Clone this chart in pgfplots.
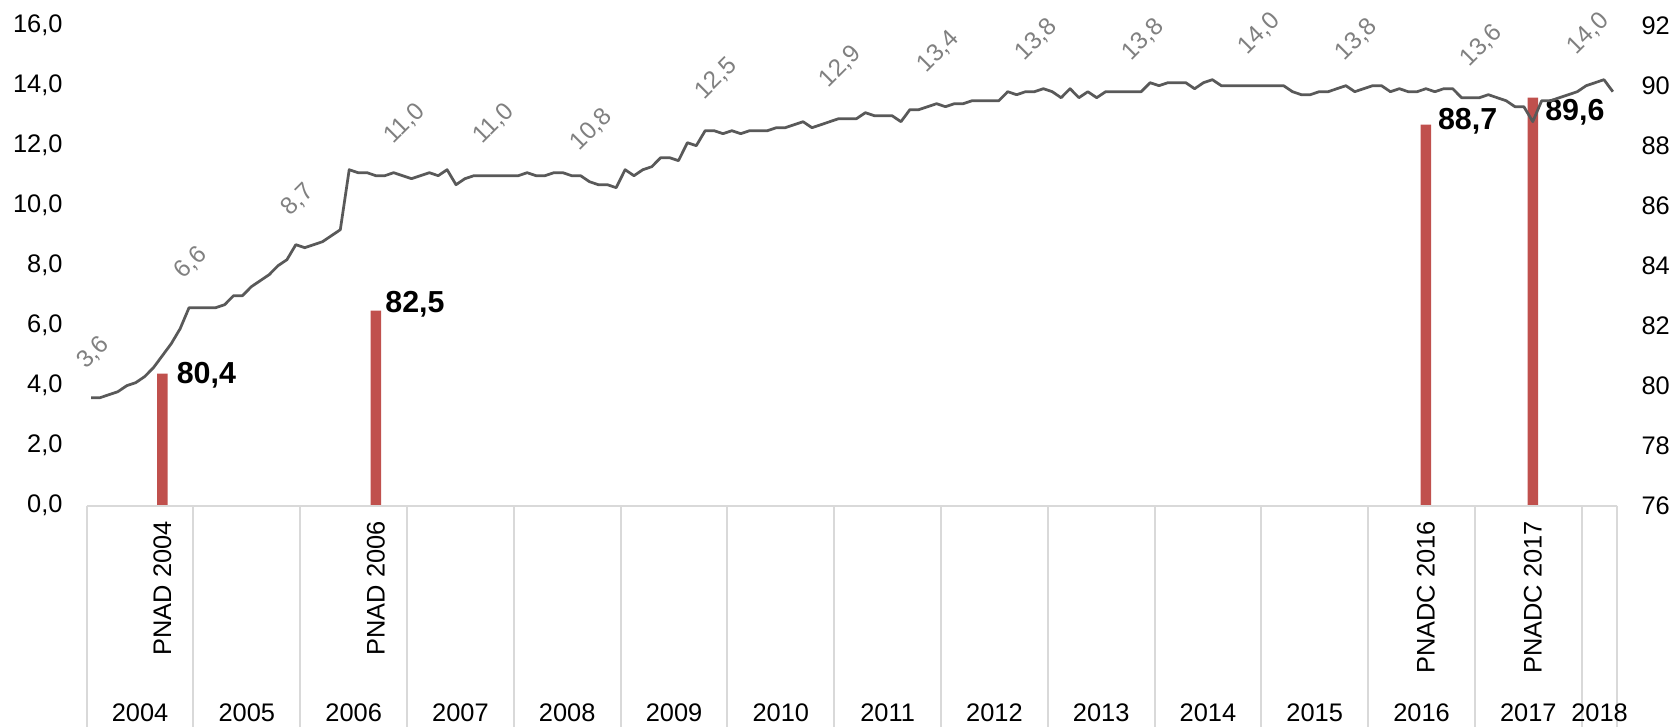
\documentclass[border=0pt]{standalone}
\usepackage{fontspec}
\setmainfont{Liberation Sans}
\usepackage{pgfplots}
\pgfplotsset{compat=1.18}
\definecolor{barred}{HTML}{C0504D}
\definecolor{linegray}{HTML}{595959}
\definecolor{sepgray}{HTML}{D9D9D9}
\definecolor{lblgray}{HTML}{808080}
\newcommand\tfont{\fontsize{25.5}{30}\selectfont}
\newcommand\bfont{\bfseries\fontsize{30.5}{36}\selectfont}
\newcommand\gfont{\fontsize{24.5}{28}\selectfont}
\begin{document}
\begin{tikzpicture}
\path[use as bounding box] (0bp,0bp) rectangle (1674bp,727bp);
% ---------- bars (right axis) ----------
\begin{axis}[
  at={(86.7bp,221.3bp)}, anchor=south west,
  scale only axis, width=1530.6bp, height=480bp,
  xmin=-0.5, xmax=171.5, ymin=76, ymax=92,
  axis x line=none, axis y line*=right,
  y axis line style={draw=none},
  ytick={76,78,80,82,84,86,88,90,92},
  ytick style={draw=none},
  yticklabel style={font=\tfont, anchor=west, inner sep=0pt, xshift=24bp},
  /pgf/number format/assume math mode=true,
  clip mode=individual,
]
\addplot[ybar, bar width=10.5bp, fill=barred, draw=none] coordinates {(8,80.4) (32,82.5) (150,88.7) (162,89.6)};
\node[xshift=14.3bp, yshift=-2bp, anchor=west, inner sep=0pt, font=\bfont] at (axis cs:8,80.4) {80,4};
\node[xshift=9.3bp, yshift=6.7bp, anchor=west, inner sep=0pt, font=\bfont] at (axis cs:32,82.5) {82,5};
\node[xshift=11.9bp, yshift=3.3bp, anchor=west, inner sep=0pt, font=\bfont] at (axis cs:150,88.7) {88,7};
\node[xshift=12.3bp, yshift=-15bp, anchor=west, inner sep=0pt, font=\bfont] at (axis cs:162,89.6) {89,6};
\end{axis}
% ---------- line (left axis) ----------
\begin{axis}[
  at={(86.7bp,221.3bp)}, anchor=south west,
  scale only axis, width=1530.6bp, height=480bp,
  xmin=-0.5, xmax=171.5, ymin=0, ymax=16,
  axis x line*=bottom, axis y line*=left,
  y axis line style={draw=none},
  x axis line style={draw=sepgray, line width=2bp, -},
  ytick={0,2,4,6,8,10,12,14,16},
  ytick style={draw=none},
  yticklabel style={font=\tfont, anchor=east, inner sep=0pt, xshift=-24bp},
  /pgf/number format/fixed,
  /pgf/number format/fixed zerofill,
  /pgf/number format/precision=1,
  /pgf/number format/use comma,
  /pgf/number format/assume math mode=true,
  xtick=\empty,
  clip=false,
]
% category separators (year boundaries of the multi-level axis)
\draw[sepgray, line width=2bp] (axis cs:-0.5,0) -- ++(0bp,-222bp);
\draw[sepgray, line width=2bp] (axis cs:11.5,0) -- ++(0bp,-222bp);
\draw[sepgray, line width=2bp] (axis cs:23.5,0) -- ++(0bp,-222bp);
\draw[sepgray, line width=2bp] (axis cs:35.5,0) -- ++(0bp,-222bp);
\draw[sepgray, line width=2bp] (axis cs:47.5,0) -- ++(0bp,-222bp);
\draw[sepgray, line width=2bp] (axis cs:59.5,0) -- ++(0bp,-222bp);
\draw[sepgray, line width=2bp] (axis cs:71.5,0) -- ++(0bp,-222bp);
\draw[sepgray, line width=2bp] (axis cs:83.5,0) -- ++(0bp,-222bp);
\draw[sepgray, line width=2bp] (axis cs:95.5,0) -- ++(0bp,-222bp);
\draw[sepgray, line width=2bp] (axis cs:107.5,0) -- ++(0bp,-222bp);
\draw[sepgray, line width=2bp] (axis cs:119.5,0) -- ++(0bp,-222bp);
\draw[sepgray, line width=2bp] (axis cs:131.5,0) -- ++(0bp,-222bp);
\draw[sepgray, line width=2bp] (axis cs:143.5,0) -- ++(0bp,-222bp);
\draw[sepgray, line width=2bp] (axis cs:155.5,0) -- ++(0bp,-222bp);
\draw[sepgray, line width=2bp] (axis cs:167.5,0) -- ++(0bp,-222bp);
\draw[sepgray, line width=2bp] (axis cs:171.5,0) -- ++(0bp,-222bp);
\addplot[linegray, line width=2.75bp, line join=round, mark=none] table {
x y
0 3.6
1 3.6
2 3.7
3 3.8
4 4.0
5 4.1
6 4.3
7 4.6
8 5.0
9 5.4
10 5.9
11 6.6
12 6.6
13 6.6
14 6.6
15 6.7
16 7.0
17 7.0
18 7.3
19 7.5
20 7.7
21 8.0
22 8.2
23 8.7
24 8.6
25 8.7
26 8.8
27 9.0
28 9.2
29 11.2
30 11.1
31 11.1
32 11.0
33 11.0
34 11.1
35 11.0
36 10.9
37 11.0
38 11.1
39 11.0
40 11.2
41 10.7
42 10.9
43 11.0
44 11.0
45 11.0
46 11.0
47 11.0
48 11.0
49 11.1
50 11.0
51 11.0
52 11.1
53 11.1
54 11.0
55 11.0
56 10.8
57 10.7
58 10.7
59 10.6
60 11.2
61 11.0
62 11.2
63 11.3
64 11.6
65 11.6
66 11.5
67 12.1
68 12.0
69 12.5
70 12.5
71 12.4
72 12.5
73 12.4
74 12.5
75 12.5
76 12.5
77 12.6
78 12.6
79 12.7
80 12.8
81 12.6
82 12.7
83 12.8
84 12.9
85 12.9
86 12.9
87 13.1
88 13.0
89 13.0
90 13.0
91 12.8
92 13.2
93 13.2
94 13.3
95 13.4
96 13.3
97 13.4
98 13.4
99 13.5
100 13.5
101 13.5
102 13.5
103 13.8
104 13.7
105 13.8
106 13.8
107 13.9
108 13.8
109 13.6
110 13.9
111 13.6
112 13.8
113 13.6
114 13.8
115 13.8
116 13.8
117 13.8
118 13.8
119 14.1
120 14.0
121 14.1
122 14.1
123 14.1
124 13.9
125 14.1
126 14.2
127 14.0
128 14.0
129 14.0
130 14.0
131 14.0
132 14.0
133 14.0
134 14.0
135 13.8
136 13.7
137 13.7
138 13.8
139 13.8
140 13.9
141 14.0
142 13.8
143 13.9
144 14.0
145 14.0
146 13.8
147 13.9
148 13.8
149 13.8
150 13.9
151 13.8
152 13.9
153 13.9
154 13.6
155 13.6
156 13.6
157 13.7
158 13.6
159 13.5
160 13.3
161 13.3
162 12.8
163 13.5
164 13.5
165 13.6
166 13.7
167 13.8
168 14.0
169 14.1
170 14.2
171 13.8
};
% gray value labels
\node[xshift=2bp, yshift=45bp, rotate=45, inner sep=0pt, font=\gfont, text=lblgray] at (axis cs:0,3.6) {3,6};
\node[xshift=2bp, yshift=45bp, rotate=45, inner sep=0pt, font=\gfont, text=lblgray] at (axis cs:11,6.6) {6,6};
\node[xshift=2bp, yshift=45bp, rotate=45, inner sep=0pt, font=\gfont, text=lblgray] at (axis cs:23,8.7) {8,7};
\node[xshift=2bp, yshift=52bp, rotate=45, inner sep=0pt, font=\gfont, text=lblgray] at (axis cs:35,11.0) {11,0};
\node[xshift=2bp, yshift=52bp, rotate=45, inner sep=0pt, font=\gfont, text=lblgray] at (axis cs:45,11.0) {11,0};
\node[xshift=2bp, yshift=52bp, rotate=45, inner sep=0pt, font=\gfont, text=lblgray] at (axis cs:56,10.8) {10,8};
\node[xshift=2bp, yshift=52bp, rotate=45, inner sep=0pt, font=\gfont, text=lblgray] at (axis cs:70,12.5) {12,5};
\node[xshift=2bp, yshift=52bp, rotate=45, inner sep=0pt, font=\gfont, text=lblgray] at (axis cs:84,12.9) {12,9};
\node[xshift=2bp, yshift=52bp, rotate=45, inner sep=0pt, font=\gfont, text=lblgray] at (axis cs:95,13.4) {13,4};
\node[xshift=2bp, yshift=52bp, rotate=45, inner sep=0pt, font=\gfont, text=lblgray] at (axis cs:106,13.8) {13,8};
\node[xshift=2bp, yshift=52bp, rotate=45, inner sep=0pt, font=\gfont, text=lblgray] at (axis cs:118,13.8) {13,8};
\node[xshift=2bp, yshift=52bp, rotate=45, inner sep=0pt, font=\gfont, text=lblgray] at (axis cs:131,14.0) {14,0};
\node[xshift=2bp, yshift=52bp, rotate=45, inner sep=0pt, font=\gfont, text=lblgray] at (axis cs:142,13.8) {13,8};
\node[xshift=2bp, yshift=52bp, rotate=45, inner sep=0pt, font=\gfont, text=lblgray] at (axis cs:156,13.6) {13,6};
\node[xshift=2bp, yshift=52bp, rotate=45, inner sep=0pt, font=\gfont, text=lblgray] at (axis cs:168,14.0) {14,0};
% survey labels (inner category level)
\node[yshift=-15.5bp, rotate=90, anchor=east, inner sep=0pt, font=\tfont] at (axis cs:8,0) {PNAD 2004};
\node[yshift=-15.5bp, rotate=90, anchor=east, inner sep=0pt, font=\tfont] at (axis cs:32,0) {PNAD 2006};
\node[yshift=-15.5bp, rotate=90, anchor=east, inner sep=0pt, font=\tfont] at (axis cs:150,0) {PNADC 2016};
\node[yshift=-15.5bp, rotate=90, anchor=east, inner sep=0pt, font=\tfont] at (axis cs:162,0) {PNADC 2017};
% year labels (outer category level)
\node[yshift=-207bp, inner sep=0pt, font=\tfont] at (axis cs:5.5,0) {2004};
\node[yshift=-207bp, inner sep=0pt, font=\tfont] at (axis cs:17.5,0) {2005};
\node[yshift=-207bp, inner sep=0pt, font=\tfont] at (axis cs:29.5,0) {2006};
\node[yshift=-207bp, inner sep=0pt, font=\tfont] at (axis cs:41.5,0) {2007};
\node[yshift=-207bp, inner sep=0pt, font=\tfont] at (axis cs:53.5,0) {2008};
\node[yshift=-207bp, inner sep=0pt, font=\tfont] at (axis cs:65.5,0) {2009};
\node[yshift=-207bp, inner sep=0pt, font=\tfont] at (axis cs:77.5,0) {2010};
\node[yshift=-207bp, inner sep=0pt, font=\tfont] at (axis cs:89.5,0) {2011};
\node[yshift=-207bp, inner sep=0pt, font=\tfont] at (axis cs:101.5,0) {2012};
\node[yshift=-207bp, inner sep=0pt, font=\tfont] at (axis cs:113.5,0) {2013};
\node[yshift=-207bp, inner sep=0pt, font=\tfont] at (axis cs:125.5,0) {2014};
\node[yshift=-207bp, inner sep=0pt, font=\tfont] at (axis cs:137.5,0) {2015};
\node[yshift=-207bp, inner sep=0pt, font=\tfont] at (axis cs:149.5,0) {2016};
\node[yshift=-207bp, inner sep=0pt, font=\tfont] at (axis cs:161.5,0) {2017};
\node[yshift=-207bp, inner sep=0pt, font=\tfont] at (axis cs:169.5,0) {2018};
\end{axis}
\end{tikzpicture}
\end{document}
